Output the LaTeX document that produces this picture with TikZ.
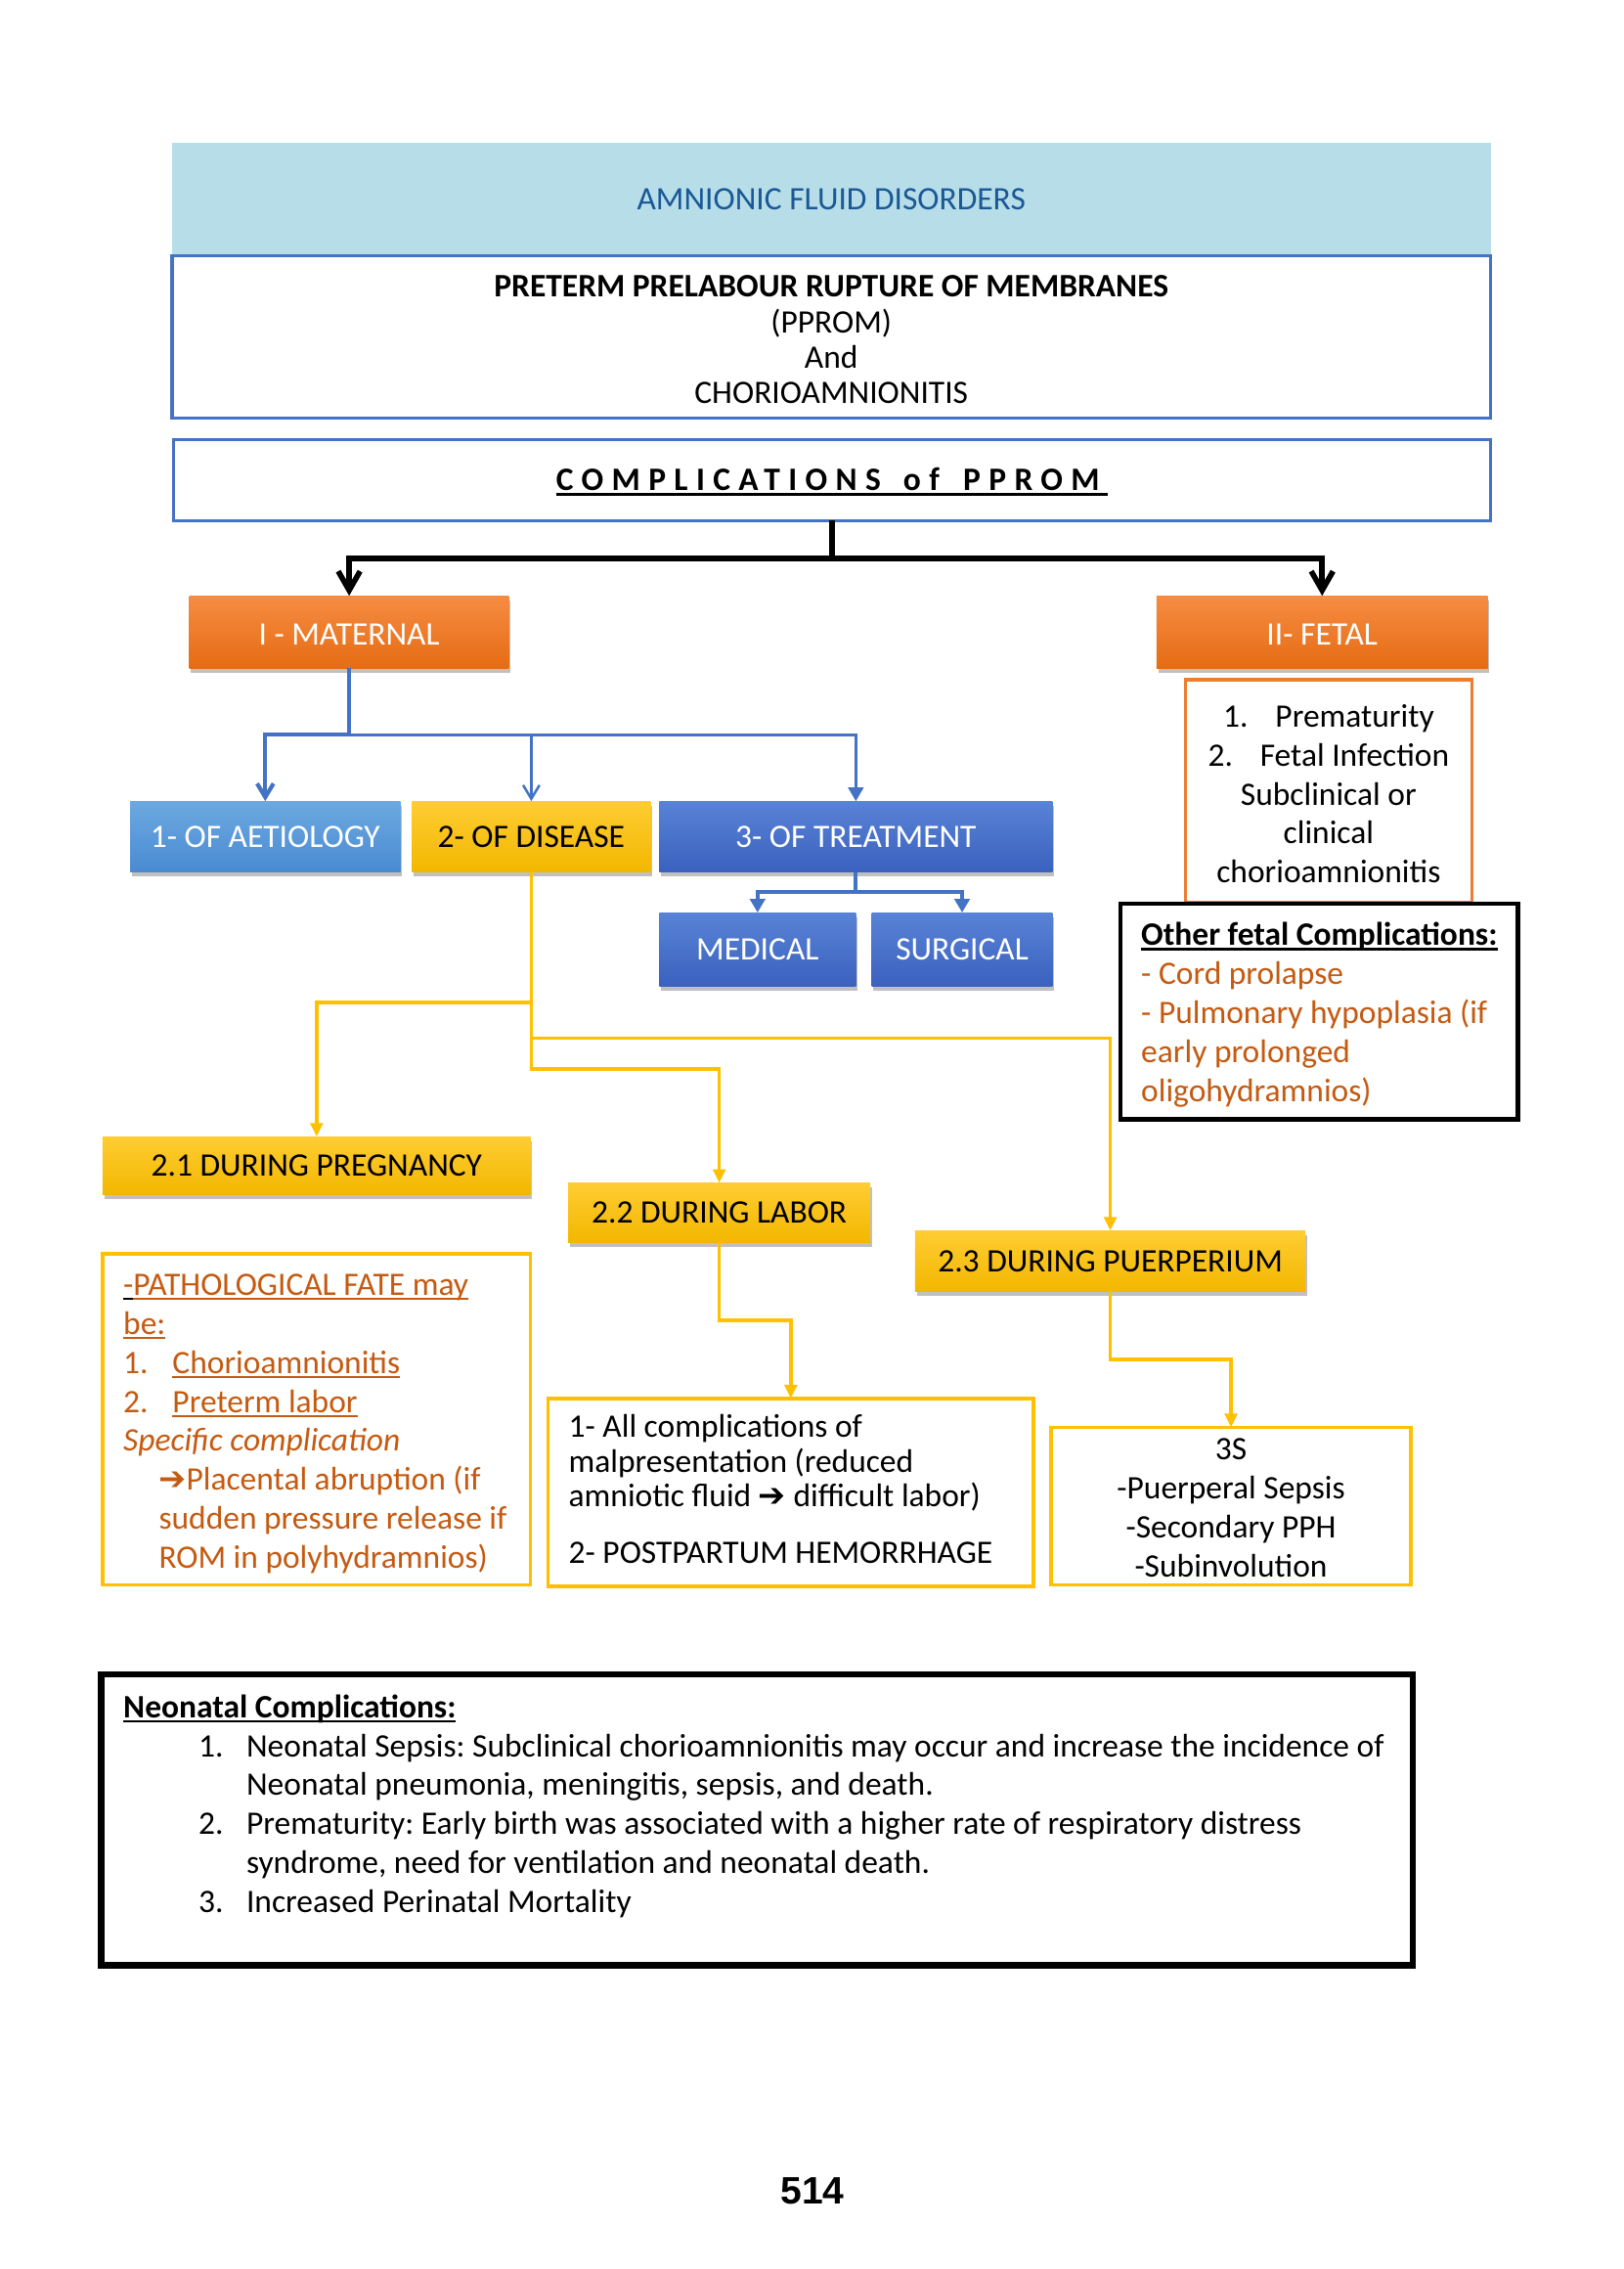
\documentclass[tikz,border=0pt]{standalone}
\usepackage{fontspec}
\setmainfont{Carlito}
\newfontfamily\dejavu{DejaVu Sans}
\newfontfamily\arialf{Liberation Sans}
\usetikzlibrary{arrows.meta,shadows,fit,calc}
\definecolor{hdrfill}{HTML}{B7DEE8}
\definecolor{hdrtext}{HTML}{1A5896}
\definecolor{bdblue}{HTML}{4472C4}
\definecolor{orT}{HTML}{F68C42}
\definecolor{orB}{HTML}{E56C14}
\definecolor{abT}{HTML}{6CA9E2}
\definecolor{abB}{HTML}{4A8AD0}
\definecolor{ylT}{HTML}{FFCD33}
\definecolor{ylB}{HTML}{F2B700}
\definecolor{buT}{HTML}{5983D6}
\definecolor{buB}{HTML}{3A61BE}
\definecolor{brn}{HTML}{C55A11}
\definecolor{ylline}{HTML}{FFC000}
\definecolor{orline}{HTML}{ED7D31}
\newcommand\ftxt{\fontsize{12}{14.3}\selectfont\frenchspacing}
\newsavebox\ulbox
\newcommand\uln[1]{\sbox\ulbox{#1}\rlap{\rule[-1.7pt]{\wd\ulbox}{0.6pt}}\usebox\ulbox}
\newcommand\ulb[1]{\sbox\ulbox{#1}\rlap{\rule[-1.9pt]{\wd\ulbox}{0.9pt}}\usebox\ulbox}
\tikzset{
  pxbox/.style={inner sep=0pt, outer sep=0pt},
  lbl/.style={inner sep=0pt, outer sep=0pt},
  shd/.style={drop shadow={shadow xshift=0.6pt,shadow yshift=-1.6pt,opacity=0.35,fill=black!70}},
  orgbox/.style={pxbox, shd, top color=orT, bottom color=orB},
  aetbox/.style={pxbox, shd, top color=abT, bottom color=abB},
  ylwbox/.style={pxbox, shd, top color=ylT, bottom color=ylB},
  bluebox/.style={pxbox, shd, top color=buT, bottom color=buB},
  ylframe/.style={pxbox, draw=ylline, line width=1.3pt, fill=white},
  txtblock/.style={anchor=north west, inner sep=0pt, align=left},
  blkline/.style={draw=black, line width=2pt},
  blkarrow/.style={blkline, -{Straight Barb[length=7pt,width=8pt]}},
  blueln/.style={draw=bdblue, line width=1.2pt},
  bluebarb/.style={blueln, -{Straight Barb[length=5pt,width=6pt]}},
  bluetri/.style={blueln, -{Triangle[length=5pt,width=5.5pt]}},
  ylwln/.style={draw=ylline, line width=1.3pt},
  ylwarrow/.style={ylwln, -{Triangle[length=5pt,width=4.5pt]}}
}
\begin{document}
\begin{tikzpicture}[x=0.53pt,y=-0.53pt,font=\ftxt]
\useasboundingbox (0,0) rectangle (1123,1569);
\fill[white] (0,0) rectangle (1123,1569);

% header
\node[pxbox, fill=hdrfill, fit={(119,99)(1031,177)}] (hdr) {};
\node[lbl, text=hdrtext] (hdrt) at (hdr.center) {AMNIONIC FLUID DISORDERS};
\node[pxbox, draw=bdblue, line width=1.2pt, fit={(119,177)(1031,289)}] (ppr) {};
\node[lbl, align=center, font=\fontsize{12}{13}\selectfont] (pprt) at ([yshift=-1pt]ppr.center)
  {\textbf{\spaceskip=0.226em PRETERM PRELABOUR RUPTURE OF MEMBRANES}\\(PPROM)\\And\\CHORIOAMNIONITIS};
\node[pxbox, draw=bdblue, line width=1.2pt, fit={(120,304)(1031,360)}] (comp) {};
\node[lbl] (compt) at ([yshift=-0.5pt]comp.center)
  {\ulb{\textbf{\addfontfeature{LetterSpace=25}COMPLICATIONS\hspace{2.5pt} of\hspace{3pt} PPROM}}};

% level 1
\node[orgbox, fit={(131,412)(352,462)}] (mat) {};
\node[lbl, text=white] (matt) at ([yshift=-0.8pt]mat.center) {I - MATERNAL};
\node[orgbox, fit={(800,412)(1029,462)}] (fet) {};
\node[lbl, text=white] (fett) at ([yshift=-0.8pt]fet.center) {II- FETAL};
\draw[blkline] (comp.south) -- ++(0,26) coordinate (cj);
\draw[blkarrow] (cj) -| (mat.north);
\draw[blkarrow] (cj) -| (fet.north);

% fetal
\node[pxbox, draw=orline, line width=1.1pt, fill=white, fit={(820,470)(1018,624)}] (fetl) {};
\node[lbl, align=center] (fetlt) at ([yshift=-1pt]fetl.center)
  {1.\hspace{10pt}Prematurity\\2.\hspace{10pt}Fetal Infection\\Subclinical or\\clinical\\chorioamnionitis};
\node[pxbox, draw=black, line width=1.6pt, fill=white, fit={(775,625)(1050,774)}] (ofc) {};
\node[txtblock, text=brn] (ofct) at (789,634.4)
  {\strut\textcolor{black}{\ulb{\textbf{Other fetal Complications:}}}\\- Cord prolapse\\- Pulmonary hypoplasia (if\\early prolonged\\oligohydramnios)};

% maternal branches
\node[aetbox, fit={(90,554)(277,603)}] (aet) {};
\node[lbl, text=white] (aett) at (aet.center) {1- OF AETIOLOGY};
\node[ylwbox, fit={(285,554)(450,603)}] (dis) {};
\node[lbl] (dist) at (dis.center) {2- OF DISEASE};
\node[bluebox, fit={(456,554)(728,603)}] (trt) {};
\node[lbl, text=white] (trtt) at (trt.center) {3- OF TREATMENT};
\node[bluebox, fit={(456,631)(592,682)}] (med) {};
\node[lbl, text=white] (medt) at (med.center) {MEDICAL};
\node[bluebox, fit={(603,631)(728,682)}] (sur) {};
\node[lbl, text=white] (surt) at (sur.center) {SURGICAL};

\draw[blueln, line width=1.5pt] (mat.south) -- ++(0,46) coordinate (mj);
\draw[bluebarb, line width=1.5pt] (mj) -| (aet.north);
\draw[bluetri, line width=1.1pt] (mj) -| (trt.north);
\draw[bluebarb, line width=0.9pt] (dis.north |- mj) -- (dis.north);
\draw[blueln, line width=1.4pt] (trt.south) -- ++(0,14) coordinate (tj);
\draw[bluetri, line width=1.4pt] (tj) -| (med.north);
\draw[bluetri, line width=1.4pt] (tj) -| (sur.north);

% disease sub-levels
\node[ylwbox, fit={(71,786)(367,826)}] (p21) {};
\node[lbl] (p21t) at (p21.center) {2.1 DURING PREGNANCY};
\node[ylwbox, fit={(393,818)(602,859)}] (p22) {};
\node[lbl] (p22t) at (p22.center) {2.2 DURING LABOR};
\node[ylwbox, fit={(633,851)(903,893)}] (p23) {};
\node[lbl] (p23t) at (p23.center) {2.3 DURING PUERPERIUM};
\draw[ylwarrow] (dis.south) -- ++(0,90) -| (p21.north);
\draw[ylwarrow] (dis.south) -- ++(0,115) -| (p23.north);
\draw[ylwarrow] (dis.south) -- ++(0,136) -| (p22.north);

% contents
\node[ylframe, fit={(71,867)(367,1096)}] (c21) {};
\node[txtblock, text=brn] (c21t) at (85,876.4)
  {\strut\textcolor{black}{\uln{\textcolor{brn}{-}}}\uln{PATHOLOGICAL FATE may}\\
   \uln{be:}\\
   \makebox[18pt][l]{1.}\uln{Chorioamnionitis}\\
   \makebox[18pt][l]{2.}\uln{Preterm labor}\\
   \textit{Specific complication}\\
   \hspace*{13pt}{\dejavu\bfseries ➔}Placental abruption (if\\
   \hspace*{13pt}sudden pressure release if\\
   \hspace*{13pt}ROM in polyhydramnios)};

\node[ylframe, fit={(379,967)(715,1097)}] (c22) {};
\node[txtblock, font=\fontsize{12}{12.8}\selectfont] (c22t) at (393,976.4)
  {\strut 1- All complications of\\malpresentation (reduced\\amniotic fluid {\dejavu\bfseries ➔} difficult labor)\\[8pt]2- POSTPARTUM HEMORRHAGE};
\draw[ylwarrow] (p22.south) -- ++(0,54) -| (c22.north);

\node[ylframe, fit={(727,987)(976,1096)}] (c23) {};
\node[lbl, align=center] (c23t) at ([yshift=-0.5pt]c23.center)
  {3S\\-Puerperal Sepsis\\-Secondary PPH\\-Subinvolution};
\draw[ylwarrow] (p23.south) -- ++(0,47) -| (c23.north);

% neonatal
\node[pxbox, draw=black, line width=2.2pt, fit={(70,1158)(977,1359)}] (neo) {};
\node[txtblock] (neot) at (85,1168.4)
  {\strut\ulb{\textbf{Neonatal Complications:}}\\
   \hspace*{27.6pt}\makebox[17.5pt][l]{1.}Neonatal Sepsis: Subclinical chorioamnionitis may occur and increase the incidence of\\
   \hspace*{45.1pt}Neonatal pneumonia, meningitis, sepsis, and death.\\
   \hspace*{27.6pt}\makebox[17.5pt][l]{2.}Prematurity: Early birth was associated with a higher rate of respiratory distress\\
   \hspace*{45.1pt}syndrome, need for ventilation and neonatal death.\\
   \hspace*{27.6pt}\makebox[17.5pt][l]{3.}Increased Perinatal Mortality};

\node[lbl, font=\arialf\bfseries\fontsize{14}{16}\selectfont] (pg) at (562,1515) {514};
\end{tikzpicture}
\end{document}
